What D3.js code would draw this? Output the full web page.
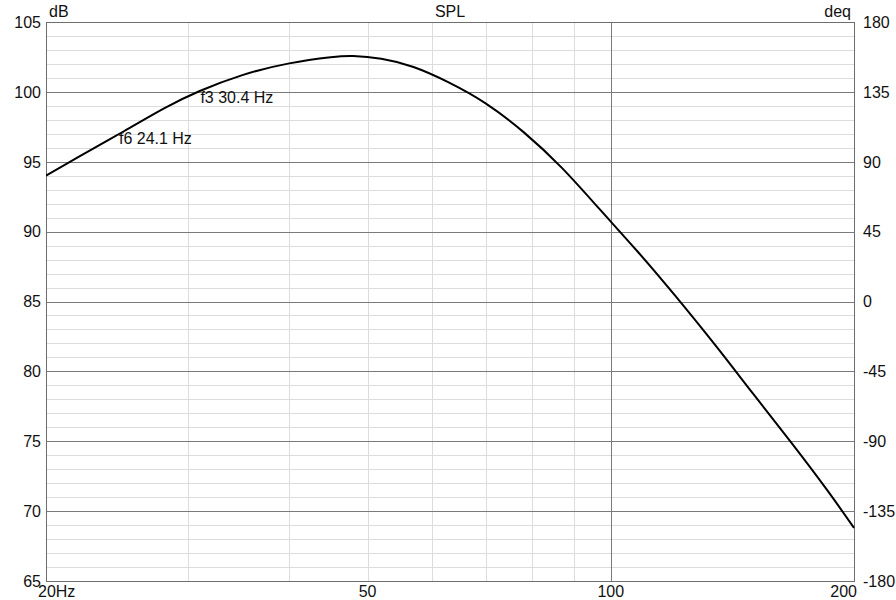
<!DOCTYPE html>
<html>
<head>
<meta charset="utf-8">
<script src="https://cdn.jsdelivr.net/npm/d3@7"></script>
<style>
  html, body { margin: 0; padding: 0; background: #fff; }
  svg { display: block; }
  text { font-family: "Liberation Sans", Arial, sans-serif; font-size: 16px; fill: #111; }
</style>
</head>
<body>
<svg id="chart" width="896" height="600"></svg>
<script>
// ---- Data ----
const freqHz = [20, 22, 25, 28, 31, 35, 40, 45, 48, 52, 57, 63, 70, 78, 87, 97, 108, 120, 135, 150, 167, 185, 200];
const splDb  = [94.0, 95.38, 97.2, 98.82, 100.06, 101.2, 102.04, 102.48, 102.57, 102.37, 101.78, 100.68, 99.18, 97.12, 94.56, 91.57, 88.56, 85.45, 81.8, 78.4, 74.95, 71.55, 68.8];

const leftTicks  = [65, 70, 75, 80, 85, 90, 95, 100, 105];
const rightTicks = [-180, -135, -90, -45, 0, 45, 90, 135, 180];
const xMinorGrid = [30, 40, 50, 60, 70, 80, 90];
const xMajorGrid = [100];
const xTickLabels = [
  { f: 20, text: "20Hz" },
  { f: 50, text: "50" },
  { f: 100, text: "100" },
  { f: 200, text: "200" }
];
const markerLabels = [
  { f: 30.4, text: "f3 30.4 Hz" },
  { f: 24.1, text: "f6 24.1 Hz" }
];
const titleText = "SPL";
const leftUnit = "dB";
const rightUnit = "deq";

// ---- Layout ----
const L = 46, R = 854, T = 22, B = 581;
const svg = d3.select("#chart");

const x = d3.scaleLog().domain([20, 200]).range([L, R]);
const y = d3.scaleLinear().domain([65, 105]).range([B, T]);
const yR = d3.scaleLinear().domain([-180, 180]).range([B, T]);

const px = v => Math.round(v) + 0.5;

// minor horizontal grid (every 1 dB)
const minorY = d3.range(66, 105).filter(v => v % 5 !== 0);
svg.append("g").selectAll("line").data(minorY).join("line")
  .attr("x1", L).attr("x2", R)
  .attr("y1", d => px(y(d))).attr("y2", d => px(y(d)))
  .attr("stroke", "#dcdcdc").attr("stroke-width", 1).attr("shape-rendering", "crispEdges");

// minor vertical grid
svg.append("g").selectAll("line").data(xMinorGrid).join("line")
  .attr("x1", d => px(x(d))).attr("x2", d => px(x(d)))
  .attr("y1", T).attr("y2", B)
  .attr("stroke", "#dcdcdc").attr("stroke-width", 1).attr("shape-rendering", "crispEdges");

// major horizontal grid
svg.append("g").selectAll("line").data(leftTicks.slice(1, -1)).join("line")
  .attr("x1", L).attr("x2", R)
  .attr("y1", d => px(y(d))).attr("y2", d => px(y(d)))
  .attr("stroke", "#7a7a7a").attr("stroke-width", 1).attr("shape-rendering", "crispEdges");

// major vertical grid
svg.append("g").selectAll("line").data(xMajorGrid).join("line")
  .attr("x1", d => px(x(d))).attr("x2", d => px(x(d)))
  .attr("y1", T).attr("y2", B)
  .attr("stroke", "#7a7a7a").attr("stroke-width", 1).attr("shape-rendering", "crispEdges");

// frame
svg.append("rect")
  .attr("x", L + 0.5).attr("y", T + 0.5)
  .attr("width", R - L).attr("height", B - T)
  .attr("fill", "none").attr("stroke", "#6e6e6e").attr("stroke-width", 1)
  .attr("shape-rendering", "crispEdges");

// curve
const pts = freqHz.map((f, i) => [f, splDb[i]]);
const line = d3.line().x(d => x(d[0])).y(d => y(d[1])).curve(d3.curveNatural);
svg.append("defs").append("clipPath").attr("id", "clip")
  .append("rect").attr("x", L).attr("y", T).attr("width", R - L + 1).attr("height", B - T);
svg.append("path").datum(pts)
  .attr("d", line)
  .attr("fill", "none").attr("stroke", "#000").attr("stroke-width", 2)
  .attr("stroke-linejoin", "round")
  .attr("clip-path", "url(#clip)");

// left tick labels
svg.append("g").selectAll("text").data(leftTicks).join("text")
  .attr("x", 41).attr("y", d => y(d))
  .attr("dy", "0.36em")
  .attr("text-anchor", "end")
  .text(d => d);

// right tick labels
svg.append("g").selectAll("text").data(rightTicks).join("text")
  .attr("x", 863).attr("y", d => yR(d))
  .attr("dy", "0.36em")
  .attr("text-anchor", "start")
  .text(d => d);

// x tick labels
svg.append("g").selectAll("text").data(xTickLabels).join("text")
  .attr("x", (d, i) => i === 0 ? 38 : (i === xTickLabels.length - 1 ? 857 : x(d.f)))
  .attr("y", 597)
  .attr("text-anchor", (d, i) => i === 0 ? "start" : (i === xTickLabels.length - 1 ? "end" : "middle"))
  .text(d => d.text);

// units and title
svg.append("text").attr("x", 49).attr("y", 17).text(leftUnit);
svg.append("text").attr("x", 851).attr("y", 17).attr("text-anchor", "end").text(rightUnit);
svg.append("text").attr("x", (L + R) / 2).attr("y", 17).attr("text-anchor", "middle").text(titleText);

// marker labels
const labelBaselines = [103, 144];
svg.append("g").selectAll("text").data(markerLabels).join("text")
  .attr("x", d => x(d.f) + 7.5)
  .attr("y", (d, i) => labelBaselines[i])
  .text(d => d.text);
</script>
</body>
</html>
